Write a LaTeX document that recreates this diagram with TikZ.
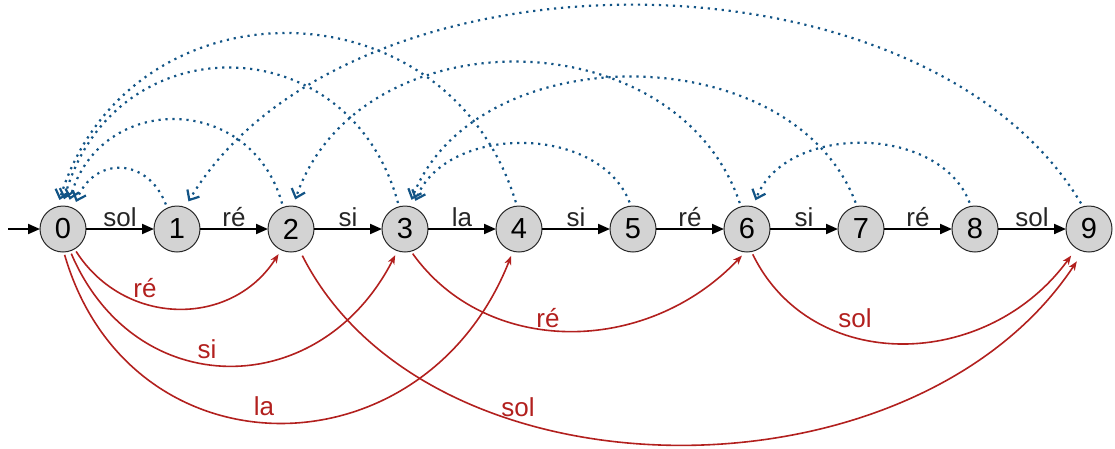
\documentclass[tikz,border=0pt]{standalone}
\usepackage{fontspec}
\setmainfont{Liberation Sans}
\usetikzlibrary{arrows.meta}
\definecolor{redc}{RGB}{178,32,30}
\definecolor{bluec}{RGB}{18,84,134}
\definecolor{nodefill}{RGB}{211,211,211}
\definecolor{nodeline}{RGB}{40,40,40}
\begin{document}
\begin{tikzpicture}[x=1pt,y=-1pt,
  state/.style={circle, draw=nodeline, line width=1pt, fill=nodefill, minimum size=46pt, inner sep=0pt, outer sep=0pt, font=\fontsize{29}{32}\selectfont},
  blk/.style={draw=black, line width=2pt, -{Triangle[length=12pt,width=10pt]}},
  blab/.style={font=\fontsize{26}{30}\selectfont, text=black!85, anchor=base, inner sep=0pt, yshift=3pt},
  redarc/.style={draw=redc, line width=1.6pt, -{Stealth[length=9pt,width=7pt,inset=2.5pt]}, shorten <=3pt, shorten >=5pt},
  rlab/.style={font=\fontsize{26}{30}\selectfont, text=redc, anchor=base, inner sep=0pt},
  slink/.style={draw=bluec, line width=2.2pt, dash pattern=on 2.2pt off 4.8pt, -{Straight Barb[length=8pt,width=14pt,line width=2.2pt]}, shorten <=4pt, shorten >=7pt},
]
\useasboundingbox (0,0) rectangle (1115,448);
\foreach \i in {0,...,9} \node[state] (n\i) at ({63+114*\i},229) {\i};
\coordinate (init) at (8,229);
\draw[blk] (init) -- (n0);
\draw[blk] (n0) -- node[blab] {sol} (n1);
\draw[blk] (n1) -- node[blab] {ré} (n2);
\draw[blk] (n2) -- node[blab] {si} (n3);
\draw[blk] (n3) -- node[blab] {la} (n4);
\draw[blk] (n4) -- node[blab] {si} (n5);
\draw[blk] (n5) -- node[blab] {ré} (n6);
\draw[blk] (n6) -- node[blab] {si} (n7);
\draw[blk] (n7) -- node[blab] {ré} (n8);
\draw[blk] (n8) -- node[blab] {sol} (n9);
% red extra transitions
\draw[redarc] (n0.-60) .. controls +(50,78) and +(-50,78) .. (n2.-115);
\draw[redarc] (n0.-72) .. controls +(65,152) and +(-78,152) .. (n3.-109);
\draw[redarc] (n0.-88) .. controls +(66,227) and +(-90,227) .. (n4.-105);
\draw[redarc, shorten <=6pt, shorten >=12pt] (n2.-68) .. controls +(130,256) and +(-170,256) .. (n9.-104);
\draw[redarc] (n3.-75) .. controls +(75,105) and +(-100,105) .. (n6.-94);
\draw[redarc, shorten >=9pt] (n6.-79) .. controls +(60,123) and +(-90,123) .. (n9.-123);
\node[rlab] (r02) at (145,297) {ré};
\node[rlab] (r03) at (207,358) {si};
\node[rlab] (r04) at (264,415) {la};
\node[rlab] (r29) at (518,416) {sol};
\node[rlab] (r36) at (548,327) {ré};
\node[rlab] (r69) at (855,327) {sol};
% blue suffix links
\draw[slink] (n1.115) .. controls +(-20,-52) and +(20,-52) .. (n0.63);
\draw[slink] (n2.110) .. controls +(-32,-115) and +(32,-115) .. (n0.78);
\draw[slink] (n3.105) .. controls +(-50,-183) and +(50,-183) .. (n0.92);
\draw[slink] (n4.95) .. controls +(-70,-229) and +(70,-229) .. (n0.104);
\draw[slink] (n5.95) .. controls +(-32,-83) and +(32,-83) .. (n3.70);
\draw[slink] (n6.105) .. controls +(-65,-191) and +(65,-191) .. (n2.85);
\draw[slink] (n7.100) .. controls +(-65,-171) and +(65,-171) .. (n3.80);
\draw[slink] (n8.100) .. controls +(-32,-83) and +(32,-83) .. (n6.75);
\draw[slink] (n9.105) .. controls +(-160,-268) and +(160,-268) .. (n1.70);
\end{tikzpicture}
\end{document}
